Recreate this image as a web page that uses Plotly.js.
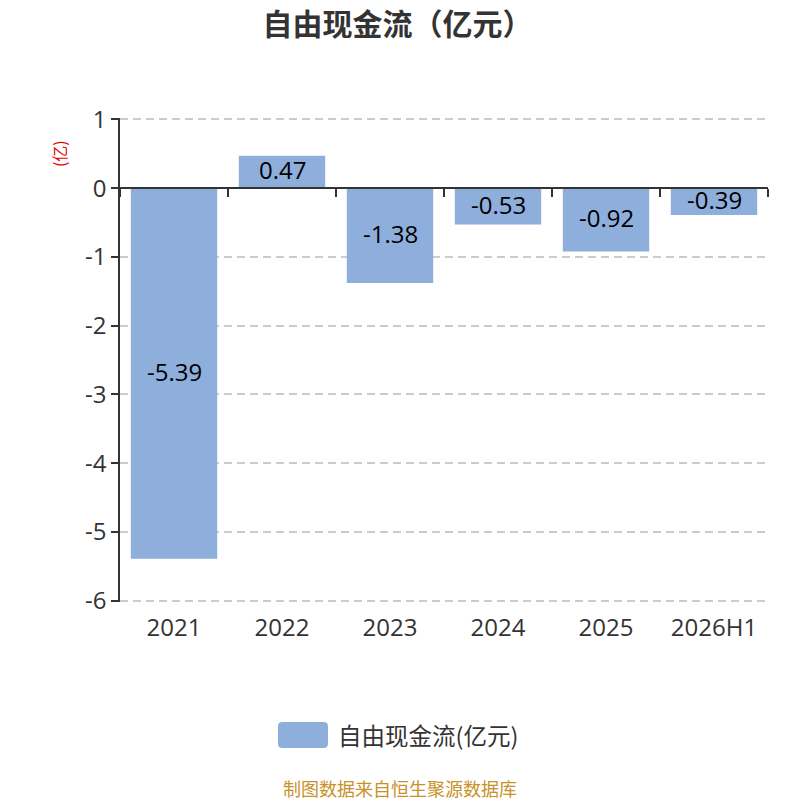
<!DOCTYPE html>
<html>
<head>
<meta charset="utf-8">
<script src="https://cdn.plot.ly/plotly-3.0.1.min.js"></script>
<style>html,body{margin:0;padding:0;background:#fff}#plot{width:800px;height:800px}</style>
</head>
<body>
<div id="plot"></div>
<script>
// chart data
var years = ['2021', '2022', '2023', '2024', '2025', '2026H1'];
var freeCashFlow = [-5.39, 0.47, -1.38, -0.53, -0.92, -0.39];
var yTicks = [1, 0, -1, -2, -3, -4, -5, -6];
var seriesName = '自由现金流(亿元)';

var font = 'Open Sans, Noto Sans CJK SC, sans-serif';
var cjkFont = 'Noto Sans CJK SC, sans-serif';
// a little padding so the end gridlines (1 and -6) are still drawn
var yMin = -6.02, yMax = 1.02;

var trace = {
  x: years,
  y: freeCashFlow,
  type: 'bar',
  name: seriesName,
  width: 0.8,
  marker: {color: '#8eaedb'},
  hoverinfo: 'x+y'
};

// invisible helper so the second x axis (the one on the zero line) gets drawn
var zeroAxisTrace = {
  x: years, y: years.map(function () { return null; }),
  xaxis: 'x2', yaxis: 'y', type: 'bar', showlegend: false, hoverinfo: 'skip'
};

// value labels in the middle of each bar (x by category index)
var labels = years.map(function (yr, i) {
  return {
    x: i, y: freeCashFlow[i] / 2, xref: 'x', yref: 'y',
    text: freeCashFlow[i].toFixed(2), showarrow: false,
    yanchor: 'middle', yshift: 2,
    font: {family: font, size: 24, color: '#000'}
  };
});

// rounded legend swatch
function roundRect(x0, y0, x1, y1, rx, ry) {
  return 'M' + (x0 + rx) + ',' + y0 + ' L' + (x1 - rx) + ',' + y0 +
    ' Q' + x1 + ',' + y0 + ' ' + x1 + ',' + (y0 + ry) +
    ' L' + x1 + ',' + (y1 - ry) + ' Q' + x1 + ',' + y1 + ' ' + (x1 - rx) + ',' + y1 +
    ' L' + (x0 + rx) + ',' + y1 + ' Q' + x0 + ',' + y1 + ' ' + x0 + ',' + (y1 - ry) +
    ' L' + x0 + ',' + (y0 + ry) + ' Q' + x0 + ',' + y0 + ' ' + (x0 + rx) + ',' + y0 + ' Z';
}

var layout = {
  width: 800, height: 800,
  margin: {l: 120, r: 32, t: 118, b: 198},
  paper_bgcolor: '#fff', plot_bgcolor: '#fff',
  showlegend: false,
  title: {
    text: '<b>自由现金流（亿元）</b>',
    font: {family: cjkFont, size: 30, color: '#333'},
    x: 0.497, xanchor: 'center', y: 0.97, yanchor: 'middle'
  },
  xaxis: {
    type: 'category',
    range: [-0.5, years.length - 0.5], autorange: false,
    showgrid: false, showline: false, zeroline: false,
    ticks: '', ticklabelstandoff: 9,
    tickfont: {family: font, size: 24, color: '#333'}
  },
  xaxis2: {
    type: 'category', matches: 'x', overlaying: 'x',
    anchor: 'free', position: (0 - yMin) / (yMax - yMin),
    showgrid: false, zeroline: false, showticklabels: false,
    showline: true, linecolor: '#333', linewidth: 1.5,
    ticks: 'outside', tickson: 'boundaries', ticklen: 8, tickcolor: '#333', tickwidth: 1.5
  },
  yaxis: {
    range: [yMin, yMax], autorange: false,
    tickvals: yTicks,
    ticktext: yTicks.map(String),
    showgrid: true, gridcolor: '#cccccc', griddash: '8px,5px', gridwidth: 1.5,
    zeroline: false,
    showline: true, linecolor: '#333', linewidth: 1.5,
    ticks: 'outside', ticklen: 7, tickcolor: '#333', tickwidth: 1.5,
    tickfont: {family: font, size: 24, color: '#333'}
  },
  shapes: [{
    type: 'path', xref: 'paper', yref: 'paper',
    path: roundRect(0.2438, -0.3017, 0.321, -0.248, 0.007, 0.009),
    fillcolor: '#8eaedb', line: {width: 0}
  }],
  annotations: labels.concat([
    {
      text: '(亿)', xref: 'paper', yref: 'paper', x: -0.094, y: 0.9256,
      xanchor: 'center', yanchor: 'middle',
      textangle: -90, showarrow: false,
      font: {family: cjkFont, size: 16, color: '#e00000'}
    },
    {
      text: seriesName, xref: 'paper', yref: 'paper', x: 0.334, y: -0.2748,
      xanchor: 'left', yanchor: 'middle', showarrow: false,
      font: {family: cjkFont, size: 23.5, color: '#333'}
    },
    {
      text: '制图数据来自恒生聚源数据库', xref: 'paper', yref: 'paper',
      x: 0.432, y: -0.384, xanchor: 'center', yanchor: 'middle', showarrow: false,
      font: {family: cjkFont, size: 18, color: '#c8912a'}
    }
  ])
};

Plotly.newPlot('plot', [trace, zeroAxisTrace], layout, {displayModeBar: false});
</script>
</body>
</html>
